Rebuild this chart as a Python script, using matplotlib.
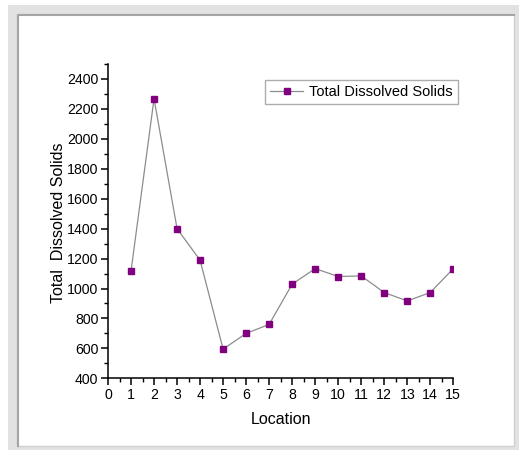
import matplotlib.pyplot as plt
from matplotlib.patches import Rectangle
from matplotlib.lines import Line2D
from matplotlib.ticker import MultipleLocator

plt.rcParams['font.family'] = ['Liberation Sans', 'DejaVu Sans']

# data
location = [1, 2, 3, 4, 5, 6, 7, 8, 9, 10, 11, 12, 13, 14, 15]
tds = [1117, 2268, 1400, 1189, 595, 700, 760, 1029, 1133, 1080, 1084, 973, 917, 973, 1133]

W, H = 519, 450
fig = plt.figure(figsize=(W / 100, H / 100), dpi=100)

# grey frame round the picture
fig.patches.append(Rectangle((8 / W, 0), (W - 8) / W, (H - 5) / H, transform=fig.transFigure,
                             facecolor='#e2e2e2', edgecolor='none', zorder=-3))
fig.patches.append(Rectangle((17 / W, 4 / H), (514 - 17) / W, (446 - 14) / H, transform=fig.transFigure,
                             facecolor='white', edgecolor='#cfcfcf', linewidth=1.0, zorder=-2))
fig.lines.append(Line2D([17.5 / W, 17.5 / W, 514 / W], [4 / H, 1 - 14.5 / H, 1 - 14.5 / H],
                        transform=fig.transFigure, color='#a5a5a5', linewidth=1.5, zorder=-1))

ax = fig.add_axes([108 / W, 1 - 378.3 / H, (453.3 - 108) / W, (378.3 - 64) / H])
ax.patch.set_alpha(0)

ax.plot(location, tds, color='#8c8c8c', linewidth=0.9, marker='s', markersize=4.6,
        markerfacecolor='#800080', markeredgecolor='#800080', label='Total Dissolved Solids')

ax.set_xlim(0, 15)
ax.set_ylim(400, 2500)
ax.xaxis.set_major_locator(MultipleLocator(1))
ax.xaxis.set_minor_locator(MultipleLocator(0.5))
ax.yaxis.set_major_locator(MultipleLocator(200))
ax.yaxis.set_minor_locator(MultipleLocator(100))
ax.set_yticks(range(400, 2401, 200))

for s in ['top', 'right']:
    ax.spines[s].set_visible(False)
for s in ['left', 'bottom']:
    ax.spines[s].set_linewidth(1.1)

ax.tick_params(which='major', direction='out', length=5, width=1.1, labelsize=10.2, pad=2)
ax.tick_params(which='minor', direction='out', length=3, width=1.0)

ax.set_xlabel('Location', fontsize=11.5, labelpad=7)
ax.set_ylabel('Total  Dissolved Solids', fontsize=11.5)
ax.yaxis.set_label_coords(-0.122, 0.495)

leg = ax.legend(loc='upper right', bbox_to_anchor=(1.0136, 0.949), borderaxespad=0,
                fontsize=10.5, frameon=True, fancybox=False, edgecolor='#999999', borderpad=0.35,
                handlelength=2.3, handletextpad=0.4)
leg.get_frame().set_linewidth(1.0)

fig.savefig('out.png', dpi=100)
